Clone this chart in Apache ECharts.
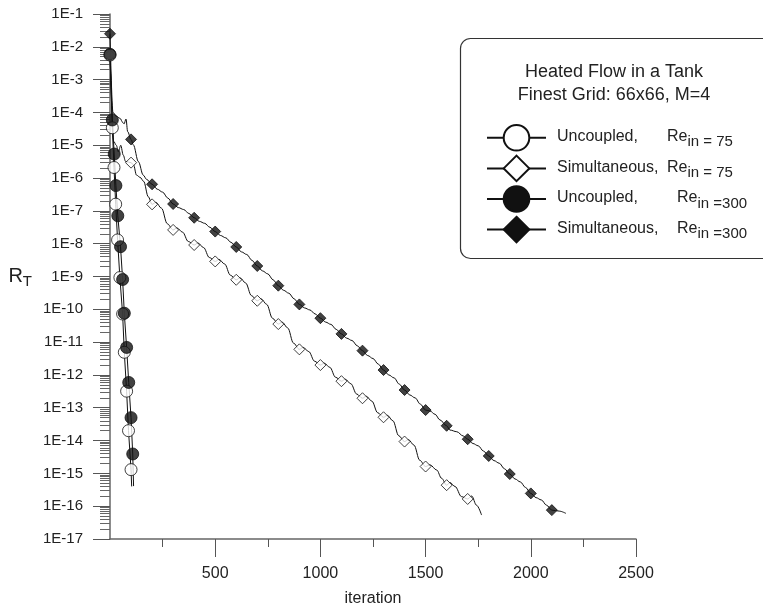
<!DOCTYPE html>
<html><head><meta charset="utf-8">
<script src="https://cdn.jsdelivr.net/npm/echarts@6/dist/echarts.min.js"></script>
<style>html,body{margin:0;padding:0;background:#fff}#c{width:763px;height:612px}</style>
</head><body><div id="c"></div>
<script>
// ---- data (iteration, residual, markerFlag) ----
const xMajorTicks = [500, 1000, 1500, 2000, 2500];
const xMinorTicks = [250, 750, 1250, 1750, 2250];
const xTickLabels = ['500', '1000', '1500', '2000', '2500'];
const yDecades = [1e-17,1e-16,1e-15,1e-14,1e-13,1e-12,1e-11,1e-10,1e-9,1e-8,1e-7,1e-6,1e-5,1e-4,1e-3,1e-2,1e-1];
const yTickLabels = ['1E-17','1E-16','1E-15','1E-14','1E-13','1E-12','1E-11','1E-10','1E-9','1E-8','1E-7','1E-6','1E-5','1E-4','1E-3','1E-2','1E-1'];
const seriesNames = ['Uncoupled, Re75','Simultaneous, Re75','Uncoupled, Re300','Simultaneous, Re300'];

const uncoupled75 = [[0,5.6e-3,1],[11,3.4e-5,1],[19,2.1e-6,1],[27,1.6e-7,1],[36,1.3e-8,1],[47,9.3e-10,1],[60,7.2e-11,1],[68,4.9e-12,1],[79,3.2e-13,1],[88,2.0e-14,1],[100,1.3e-15,1],[103,4.0e-16,0]];
const uncoupled300 = [[0,5.9e-3,1],[11,5.9e-5,1],[20,5.4e-6,1],[28,5.9e-7,1],[37,7.1e-8,1],[50,8.1e-9,1],[60,8.1e-10,1],[68,7.6e-11,1],[79,6.9e-12,1],[89,5.9e-13,1],[100,5.0e-14,1],[108,3.9e-15,1],[112,4.1e-16,0]];
const simultaneous75 = [[0,5.6e-3,1],[18,1.3e-5,0],[30,1.0e-5,0],[40,6.3e-6,0],[51,1.0e-5,0],[63,5.0e-6,0],[74,3.2e-6,0],
  [100,2.95e-6,1],[112,2.51e-6,0],[126,1.23e-6,0],[143,1.05e-6,0],[160,7.94e-7,0],[182,2.69e-7,0],
  [200,1.58e-7,1],[218,1.82e-7,0],[245,1.20e-7,0],[272,4.07e-8,0],
  [300,2.63e-8,1],[318,3.02e-8,0],[345,2.24e-8,0],[372,1.17e-8,0],
  [400,9.12e-9,1],[418,1.05e-8,0],[445,7.59e-9,0],[472,3.80e-9,0],
  [500,2.88e-9,1],[518,3.31e-9,0],[545,2.40e-9,0],[572,1.10e-9,0],
  [600,7.94e-10,1],[618,9.12e-10,0],[645,6.31e-10,0],[672,2.63e-10,0],
  [700,1.82e-10,1],[718,2.09e-10,0],[745,1.41e-10,0],[772,5.37e-11,0],
  [800,3.55e-11,1],[818,4.07e-11,0],[845,2.69e-11,0],[872,9.33e-12,0],
  [900,6.03e-12,1],[918,6.92e-12,0],[945,5.13e-12,0],[972,2.63e-12,0],
  [1000,2.00e-12,1],[1018,2.29e-12,0],[1045,1.70e-12,0],[1072,8.51e-13,0],
  [1100,6.46e-13,1],[1118,7.41e-13,0],[1145,5.37e-13,0],[1172,2.63e-13,0],
  [1200,1.95e-13,1],[1218,2.24e-13,0],[1245,1.58e-13,0],[1272,7.08e-14,0],
  [1300,5.13e-14,1],[1318,5.89e-14,0],[1345,3.98e-14,0],[1372,1.41e-14,0],
  [1400,9.33e-15,1],[1418,1.07e-14,0],[1445,7.24e-15,0],[1472,2.51e-15,0],
  [1500,1.62e-15,1],[1521,1.82e-15,0],[1553,1.26e-15,0],[1576,7.08e-16,0],
  [1600,4.37e-16,1],[1616,5.25e-16,0],[1640,3.98e-16,0],[1671,1.95e-16,0],
  [1700,1.66e-16,1],[1719,2.04e-16,0],[1742,1.07e-16,0],[1766,5.37e-17,0]];
const simultaneous300 = [[0,2.5e-2,1],[14,1.0e-4,0],[30,7.6e-5,0],[48,6.6e-5,0],[60,5.0e-5,0],[67,4.5e-5,0],[76,6.3e-5,0],[84,2.6e-5,0],
  [100,1.51e-5,1],[111,1.02e-5,0],[135,3.16e-6,0],[158,1.23e-6,0],[174,9.12e-7,0],
  [200,6.46e-7,1],[225,4.57e-7,0],[250,3.72e-7,0],[275,2.45e-7,0],
  [300,1.62e-7,1],[325,1.26e-7,0],[350,1.10e-7,0],[375,8.32e-8,0],
  [400,6.17e-8,1],[425,4.79e-8,0],[450,4.17e-8,0],[475,3.16e-8,0],
  [500,2.34e-8,1],[525,1.78e-8,0],[550,1.51e-8,0],[575,1.10e-8,0],
  [600,7.94e-9,1],[625,5.62e-9,0],[650,4.68e-9,0],[675,3.09e-9,0],
  [700,2.09e-9,1],[725,1.48e-9,0],[750,1.20e-9,0],[775,7.94e-10,0],
  [800,5.25e-10,1],[825,3.80e-10,0],[850,3.09e-10,0],[875,2.09e-10,0],
  [900,1.41e-10,1],[925,1.10e-10,0],[950,9.55e-11,0],[975,7.24e-11,0],
  [1000,5.37e-11,1],[1025,4.07e-11,0],[1050,3.47e-11,0],[1075,2.45e-11,0],
  [1100,1.78e-11,1],[1125,1.32e-11,0],[1150,1.12e-11,0],[1175,7.76e-12,0],
  [1200,5.50e-12,1],[1225,3.89e-12,0],[1250,3.16e-12,0],[1275,2.14e-12,0],
  [1300,1.41e-12,1],[1325,1.00e-12,0],[1350,8.13e-13,0],[1375,5.25e-13,0],
  [1400,3.47e-13,1],[1425,2.45e-13,0],[1450,2.00e-13,0],[1475,1.29e-13,0],
  [1500,8.51e-14,1],[1521,7.94e-14,0],[1545,6.31e-14,0],[1568,4.27e-14,0],
  [1600,2.82e-14,1],[1616,2.09e-14,0],[1648,1.86e-14,0],[1679,1.38e-14,0],
  [1700,1.10e-14,1],[1725,8.13e-15,0],[1750,6.92e-15,0],[1775,4.79e-15,0],
  [1800,3.39e-15,1],[1825,2.45e-15,0],[1850,2.04e-15,0],[1875,1.38e-15,0],
  [1900,9.55e-16,1],[1925,6.76e-16,0],[1950,5.50e-16,0],[1975,3.72e-16,0],
  [2000,2.45e-16,1],[2025,1.82e-16,0],[2050,1.55e-16,0],[2075,1.07e-16,0],
  [2100,7.59e-17,1],[2135,7.08e-17,0],[2167,6.03e-17,0]];

// ---- chart ----
const FONT = '"Liberation Sans", Arial, sans-serif';
const INK = '#111';
const yMinor = [];
for (let k = -17; k < -1; k++) for (let m = 2; m <= 9; m++) yMinor.push(parseFloat((m * Math.pow(10, k)).toPrecision(3)));

function lineSeries(name, data, symbol, filled, smooth) {
  const style = { color: filled ? INK : '#fff', borderColor: INK, borderWidth: 1 };
  return [{
    name, type: 'line', data: data.map(d => [d[0], d[1]]), symbol, showSymbol: false,
    smooth, smoothMonotone: 'x', lineStyle: { color: INK, width: 1 }, itemStyle: style, silent: true, z: filled ? 4 : 3
  }, {
    name, type: 'scatter', data: data.filter(d => d[2]).map(d => [d[0], d[1]]), symbol,
    symbolSize: symbol === 'diamond' ? 11 : 12, itemStyle: style, silent: true, z: filled ? 6 : 5
  }];
}

const labelMap = {
  'Uncoupled, Re75': '{sp| }{a|Uncoupled,}{re|Re}{sub|in = 75}',
  'Simultaneous, Re75': '{sp| }{a|Simultaneous,}{re|Re}{sub|in = 75}',
  'Uncoupled, Re300': '{sp| }{b|Uncoupled,}{re|Re}{sub|in =300}',
  'Simultaneous, Re300': '{sp| }{b|Simultaneous,}{re|Re}{sub|in =300}'
};

const chart = echarts.init(document.getElementById('c'), null, { renderer: 'canvas' });
chart.setOption({
  animation: false,
  backgroundColor: '#fff',
  textStyle: { fontFamily: FONT },
  grid: { left: 110, top: 14, width: 526, height: 525 },
  title: {
    text: 'Heated Flow in a Tank\nFinest Grid: 66x66, M=4',
    left: 609, top: 56, textAlign: 'center',
    textStyle: { fontFamily: FONT, fontSize: 18, fontWeight: 'normal', color: '#222', lineHeight: 23 }
  },
  graphic: [{
    type: 'rect', left: 458, top: 36, silent: true,
    shape: { width: 330, height: 220, r: 10 },
    style: { fill: 'none', stroke: '#333', lineWidth: 1.2 }
  }],
  legend: {
    data: seriesNames, orient: 'vertical', left: 481, top: 119,
    itemWidth: 59, itemHeight: 32, itemGap: 3, selectedMode: false,
    formatter: n => labelMap[n],
    textStyle: {
      fontFamily: FONT, color: '#222',
      rich: {
        sp: { width: 6, fontSize: 16 },
        a: { fontSize: 16, width: 110, verticalAlign: 'top', lineHeight: 18, fontFamily: FONT, color: '#222' },
        b: { fontSize: 16, width: 120, verticalAlign: 'top', lineHeight: 18, fontFamily: FONT, color: '#222' },
        re: { fontSize: 16, verticalAlign: 'top', lineHeight: 18, fontFamily: FONT, color: '#222' },
        sub: { fontSize: 15, verticalAlign: 'top', lineHeight: 18, padding: [6, 0, 0, 0], fontFamily: FONT, color: '#222' }
      }
    }
  },
  xAxis: [{
    type: 'value', min: 0, max: 2500, interval: 500, position: 'bottom',
    name: 'iteration', nameLocation: 'middle', nameGap: 52,
    nameTextStyle: { fontFamily: FONT, fontSize: 16, color: '#222' },
    axisLine: { show: true, lineStyle: { color: '#666', width: 1.5 } },
    axisTick: { show: true, customValues: xMajorTicks, length: 18, lineStyle: { color: '#555', width: 1 } },
    axisLabel: { customValues: xMajorTicks, fontSize: 16, margin: 27, color: '#222', fontFamily: FONT,
      formatter: v => xTickLabels[xMajorTicks.indexOf(Math.round(v))] || '' },
    splitLine: { show: false }
  }, {
    type: 'value', min: 0, max: 2500, position: 'bottom', offset: 0,
    axisLine: { show: false },
    axisTick: { show: true, customValues: xMinorTicks, length: 8, lineStyle: { color: '#555', width: 1 } },
    axisLabel: { show: false }, splitLine: { show: false }
  }],
  yAxis: [{
    type: 'log', logBase: 10, min: 1e-17, max: 1e-1, position: 'left',
    name: '{r|R}{t|T}', nameLocation: 'middle', nameGap: 78, nameRotate: 0,
    nameTextStyle: { rich: { r: { fontSize: 20, fontFamily: FONT, color: '#222', verticalAlign: 'top', lineHeight: 20 },
                             t: { fontSize: 15, fontFamily: FONT, color: '#222', verticalAlign: 'top', lineHeight: 20, padding: [8, 0, 0, 0] } } },
    axisLine: { show: true, lineStyle: { color: '#666', width: 1.5 } },
    axisTick: { show: true, customValues: yDecades, length: 17, lineStyle: { color: '#555', width: 1 } },
    axisLabel: { customValues: yDecades, fontSize: 15, margin: 27, color: '#222', fontFamily: FONT,
      formatter: v => yTickLabels[yDecades.findIndex(d => Math.abs(Math.log10(d) - Math.log10(v)) < 0.01)] },
    splitLine: { show: false }, minorTick: { show: false }
  }, {
    type: 'log', logBase: 10, min: 1e-17, max: 1e-1, position: 'left', offset: 0,
    axisLine: { show: false },
    axisTick: { show: true, customValues: yMinor, length: 10, lineStyle: { color: '#666', width: 1 } },
    axisLabel: { show: false }, splitLine: { show: false }
  }],
  series: [
    ...lineSeries(seriesNames[1], simultaneous75, 'diamond', false, 0.35),
    ...lineSeries(seriesNames[3], simultaneous300, 'diamond', true, 0.35),
    ...lineSeries(seriesNames[0], uncoupled75, 'circle', false, false),
    ...lineSeries(seriesNames[2], uncoupled300, 'circle', true, false)
  ]
});
</script></body></html>
